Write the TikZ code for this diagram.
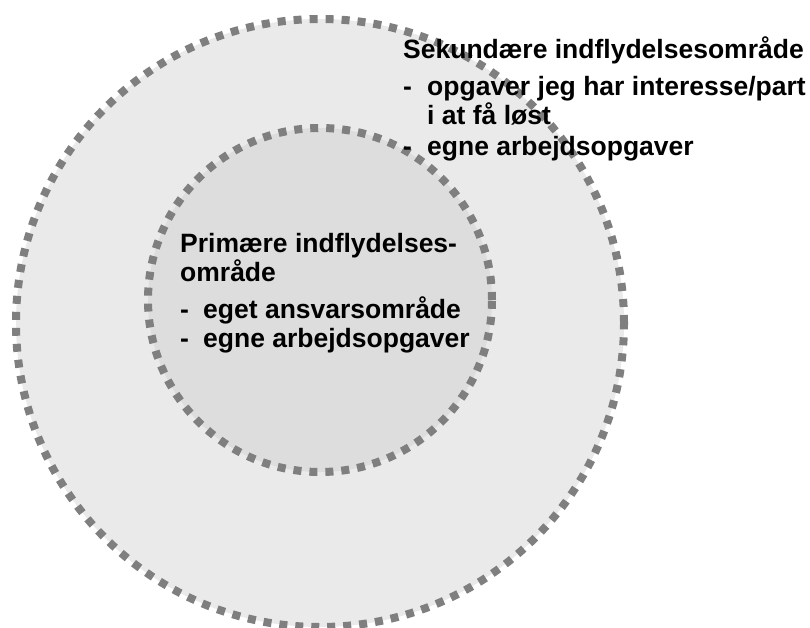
\documentclass[tikz,border=0pt]{standalone}
\usepackage{fontspec}
\setmainfont{Liberation Sans}
\definecolor{outerfill}{HTML}{EAEAEA}
\definecolor{innerfill}{HTML}{DDDDDD}
\definecolor{dotgray}{HTML}{7F7F7F}
\tikzstyle{zone}=[draw=dotgray, line width=8pt, dash pattern=on 8pt off 8pt]
\tikzstyle{zonetext}=[anchor=base west, inner sep=0pt, font=\fontsize{26.5}{30}\selectfont\bfseries]

\begin{document}
\begin{tikzpicture}[x=1pt,y=-1pt]
				\useasboundingbox (0,0) rectangle (810,628);
				\coordinate (sc) at (320,323);
				\coordinate (pc) at (320,300);

				% secondary zone
				\fill[outerfill] (sc) circle [radius=304pt];
				\draw[zone] (sc) circle [radius=304pt];

				% primary zone
				\fill[innerfill] (pc) circle [radius=172pt];
				\draw[zone] (pc) circle [radius=172pt];

				\node[zonetext] (shead) at (403,59) {Sekundære indflydelsesområde};
				\node[zonetext] (sdasha) at (403,96) {-};
				\node[zonetext] (sitema) at (427,96) {opgaver jeg har interesse/part};
				\node[zonetext] (sitemb) at (427,125) {i at få løst};
				\node[zonetext] (sdashc) at (403,156) {-};
				\node[zonetext] (sitemc) at (427,156) {egne arbejdsopgaver};

				\node[zonetext] (phead) at (180,252) {Primære indflydelses-};
				\node[zonetext] (pheadb) at (180,281) {område};
				\node[zonetext] (pdasha) at (180,318) {-};
				\node[zonetext] (pitema) at (203,318) {eget ansvarsområde};
				\node[zonetext] (pdashb) at (180,347) {-};
				\node[zonetext] (pitemb) at (203,347) {egne arbejdsopgaver};
			\end{tikzpicture}
\end{document}
